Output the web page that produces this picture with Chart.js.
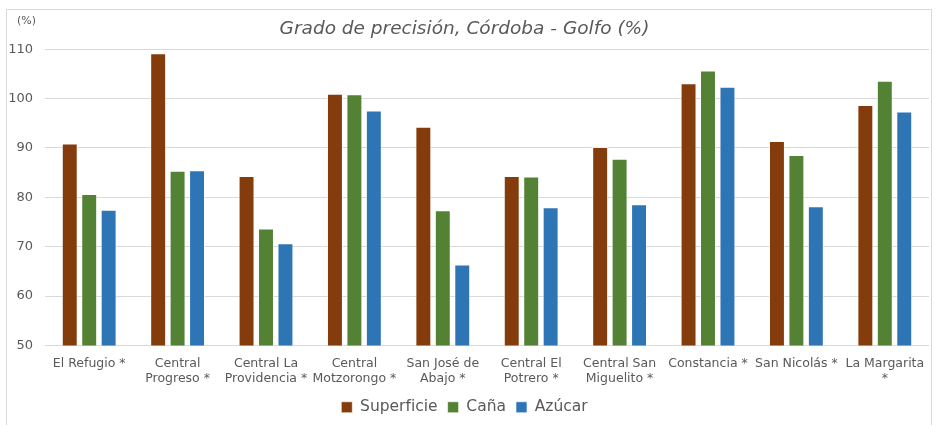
<!DOCTYPE html>
<html lang="es">
<head>
  <meta charset="UTF-8" />
  <title>Grado de precisión, Córdoba - Golfo</title>
  <style>
    html, body { margin: 0; padding: 0; background: #ffffff; }
    #frame {
      position: absolute; left: 6px; top: 9px; width: 926px; height: 440px;
      border: 1px solid #d9d9d9; box-sizing: border-box;
    }
    #wrap { position: absolute; left: 0; top: 0; width: 939px; height: 425px; }
  </style>
  <script src="https://cdn.jsdelivr.net/npm/chart.js@4.4.1/dist/chart.umd.min.js"></script>
</head>
<body>
  <div id="frame"></div>
  <div id="wrap"><canvas id="barChart"></canvas></div>

  <script>
    const categories = [
      "El Refugio *",
      ["Central", "Progreso *"],
      ["Central La", "Providencia *"],
      ["Central", "Motzorongo *"],
      ["San José de", "Abajo *"],
      ["Central El", "Potrero *"],
      ["Central San", "Miguelito *"],
      "Constancia *",
      "San Nicolás *",
      ["La Margarita", "*"]
    ];
    const superficie = [90.9, 109.2, 84.3, 101.0, 94.3, 84.3, 90.2, 103.1, 91.4, 98.7];
    const cana       = [80.7, 85.4, 73.7, 100.9, 77.4, 84.2, 87.8, 105.7, 88.6, 103.6];
    const azucar     = [77.5, 85.5, 70.7, 97.6, 66.4, 78.0, 78.6, 102.4, 78.2, 97.4];
    const yMin = 50, yMax = 110, yStep = 10;

    const FONT = "'DejaVu Sans', sans-serif";
    const GRAY = "#595959";

    const unitLabel = {
      id: "unitLabel",
      afterDraw(chart) {
        const ctx = chart.ctx;
        ctx.save();
        ctx.font = "11px " + FONT;
        ctx.fillStyle = GRAY;
        ctx.textBaseline = "middle";
        ctx.fillText("(%)", 17, 21);
        ctx.restore();
      }
    };

    function barSet(label, data, color) {
      return {
        label, data,
        backgroundColor: color,
        borderColor: "rgba(255,255,255,0.6)",
        borderWidth: 1,
        categoryPercentage: 0.66,
        barPercentage: 0.82
      };
    }

    new Chart(document.getElementById("barChart"), {
      type: "bar",
      data: {
        labels: categories,
        datasets: [
          barSet("Superficie", superficie, "#843C0C"),
          barSet("Caña", cana, "#548235"),
          barSet("Azúcar", azucar, "#2E75B6")
        ]
      },
      plugins: [unitLabel],
      options: {
        responsive: true,
        maintainAspectRatio: false,
        animation: false,
        layout: { padding: { left: 0, right: 10, top: 0, bottom: 0 } },
        plugins: {
          title: {
            display: true,
            text: "Grado de precisión, Córdoba - Golfo (%)",
            color: GRAY,
            font: { family: FONT, size: 18.5, style: "italic", weight: "normal" },
            padding: { top: 18, bottom: 9 }
          },
          legend: {
            position: "bottom",
            labels: {
              color: GRAY,
              font: { family: FONT, size: 15.5 },
              boxWidth: 11,
              boxHeight: 11,
              padding: 10
            }
          },
          tooltip: { enabled: false }
        },
        scales: {
          x: {
            grid: { display: false },
            border: { display: false },
            ticks: {
              color: GRAY,
              font: { family: FONT, size: 12.5 },
              maxRotation: 0,
              autoSkip: false,
              padding: 3
            }
          },
          y: {
            min: yMin, max: yMax,
            afterFit(scale) { scale.width = 45; },
            grid: { color: "#d9d9d9", drawTicks: false },
            border: { display: false },
            ticks: {
              stepSize: yStep,
              color: GRAY,
              font: { family: FONT, size: 13 },
              padding: 12
            }
          }
        }
      }
    });
  </script>
</body>
</html>
